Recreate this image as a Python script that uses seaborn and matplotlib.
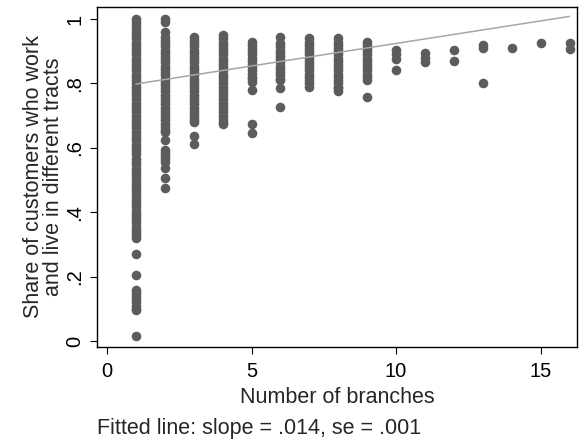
import numpy as np
import pandas as pd
import seaborn as sns
import matplotlib.pyplot as plt

# share of customers who work and live in different tracts, by number of branches
share_1 = [1.0, 0.99, 0.98, 0.97, 0.96, 0.95, 0.94, 0.93, 0.92, 0.91, 0.90, 0.89,
           0.88, 0.87, 0.86, 0.85, 0.84, 0.83, 0.82, 0.81, 0.80, 0.79, 0.78, 0.77,
           0.76, 0.75, 0.74, 0.73, 0.72, 0.71, 0.70, 0.69, 0.68, 0.67, 0.66, 0.65,
           0.64, 0.63, 0.62, 0.61, 0.60, 0.59, 0.58, 0.565, 0.555, 0.545, 0.535,
           0.525, 0.515, 0.505, 0.495, 0.485, 0.475, 0.465, 0.455, 0.445, 0.435,
           0.425, 0.415, 0.405, 0.395, 0.385, 0.375, 0.365, 0.355, 0.345, 0.335,
           0.325, 0.32, 0.27, 0.205, 0.158, 0.148, 0.14, 0.13, 0.12, 0.11, 0.10,
           0.095, 0.015]
share_2 = [1.0, 0.99, 0.96, 0.945, 0.935, 0.925, 0.915, 0.905, 0.895, 0.885,
           0.875, 0.865, 0.855, 0.845, 0.835, 0.825, 0.815, 0.805, 0.795, 0.785,
           0.775, 0.765, 0.755, 0.745, 0.735, 0.725, 0.715, 0.705, 0.695, 0.685,
           0.675, 0.665, 0.655, 0.65, 0.624, 0.593, 0.583, 0.575, 0.565, 0.556,
           0.537, 0.506, 0.475]
share_3 = [0.944, 0.935, 0.925, 0.915, 0.905, 0.895, 0.885, 0.875, 0.865, 0.855,
           0.845, 0.835, 0.825, 0.815, 0.805, 0.795, 0.785, 0.775, 0.765, 0.755,
           0.745, 0.735, 0.725, 0.715, 0.705, 0.695, 0.685, 0.68, 0.637, 0.612]
share_4 = [0.95, 0.94, 0.93, 0.92, 0.91, 0.90, 0.89, 0.88, 0.87, 0.86, 0.85, 0.84,
           0.83, 0.82, 0.81, 0.80, 0.79, 0.78, 0.77, 0.76, 0.75, 0.74, 0.73, 0.72,
           0.71, 0.70, 0.69, 0.68, 0.675]
share_5 = [0.93, 0.92, 0.91, 0.90, 0.89, 0.88, 0.87, 0.86, 0.85, 0.84, 0.83, 0.82,
           0.815, 0.805, 0.78, 0.674, 0.646]
share_6 = [0.944, 0.925, 0.915, 0.905, 0.895, 0.885, 0.875, 0.865, 0.855, 0.845,
           0.835, 0.825, 0.815, 0.81, 0.787, 0.727]
share_7 = [0.94, 0.93, 0.92, 0.91, 0.90, 0.89, 0.88, 0.87, 0.86, 0.85, 0.84, 0.83,
           0.82, 0.81, 0.80, 0.79]
share_8 = [0.94, 0.93, 0.92, 0.91, 0.90, 0.89, 0.88, 0.87, 0.86, 0.85, 0.84, 0.83,
           0.82, 0.81, 0.80, 0.79, 0.785, 0.775]
share_9 = [0.93, 0.92, 0.91, 0.90, 0.89, 0.88, 0.87, 0.86, 0.85, 0.84, 0.83, 0.82,
           0.81, 0.758]
share_10 = [0.905, 0.89, 0.875, 0.842]
share_11 = [0.895, 0.88, 0.865]
share_12 = [0.904, 0.871]
share_13 = [0.919, 0.91, 0.802]
share_14 = [0.909]
share_15 = [0.926]
share_16 = [0.925, 0.907]

# fitted line (slope = .014)
fit_slope = 0.014
fit_intercept = 0.784
fit_range = [1, 16]

shares = [share_1, share_2, share_3, share_4, share_5, share_6, share_7, share_8,
          share_9, share_10, share_11, share_12, share_13, share_14, share_15, share_16]
rows = []
for n, vals in enumerate(shares, start=1):
    for v in vals:
        rows.append({'branches': n, 'share': v})
df = pd.DataFrame(rows)

fit_x = np.array(fit_range)
fit_df = pd.DataFrame({'branches': fit_x, 'share': fit_intercept + fit_slope * fit_x})

sns.set_style('white')
plt.rcParams['font.family'] = ['Liberation Sans', 'DejaVu Sans']

fig = plt.figure(figsize=(5.8, 4.41), dpi=100)
ax = fig.add_axes([0.167, 0.213, 0.828, 0.771])

sns.scatterplot(data=df, x='branches', y='share', ax=ax, color='#5c5c5c',
                s=48, linewidth=0, alpha=1)
sns.lineplot(data=fit_df, x='branches', y='share', ax=ax, color='#a6a6a6',
             linewidth=1.1)

ax.set_xlim(-0.35, 16.26)
ax.set_ylim(-0.019, 1.037)
ax.set_xticks([0, 5, 10, 15])
ax.set_xticklabels(['0', '5', '10', '15'])
ax.set_yticks([0, 0.2, 0.4, 0.6, 0.8, 1.0])
ax.set_yticklabels(['0', '.2', '.4', '.6', '.8', '1'], rotation=90, va='center')
ax.tick_params(axis='both', direction='out', length=5, width=0.8,
               labelsize=14.5, colors='black', bottom=True, left=True)
ax.tick_params(axis='x', pad=6)
ax.tick_params(axis='y', pad=4)

for sp in ax.spines.values():
    sp.set_visible(True)
    sp.set_color('black')
    sp.set_linewidth(1.0)

ax.set_xlabel('Number of branches', fontsize=15.5, labelpad=4)
ax.set_ylabel('Share of customers who work\nand live in different tracts',
              fontsize=15.5, labelpad=1, linespacing=0.95)

fig.text(0.167, 0.005, 'Fitted line: slope = .014, se = .001', fontsize=15.5,
         ha='left', va='bottom')

fig.savefig('out.png', dpi=100, facecolor='white')
